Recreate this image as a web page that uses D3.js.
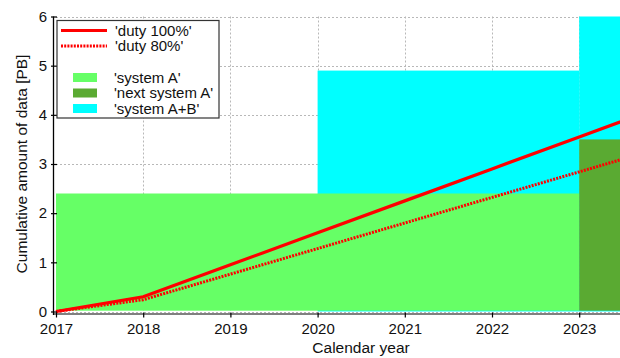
<!DOCTYPE html>
<html>
<head>
<meta charset="utf-8">
<script src="https://cdn.jsdelivr.net/npm/d3@7"></script>
<style>
  html, body { margin: 0; padding: 0; background: #fff; }
  svg { display: block; font-family: "Liberation Sans", Arial, Helvetica, sans-serif; }
</style>
</head>
<body>
<svg id="chart" width="620" height="358"></svg>
<script>
// ---- data ----
const years = [2017, 2018, 2019, 2020, 2021, 2022, 2023, 2024];
const duty100 = [0, 0.3, 0.95, 1.6, 2.25, 2.9, 3.55, 4.2];
const duty80 = [0, 0.24, 0.76, 1.28, 1.8, 2.32, 2.84, 3.36];

const boxSeries = ["system A+B", "system A+B", "system A", "next system A"];
const boxStart = [2020, 2023, 2017, 2023];
const boxEnd = [2023, 2024, 2023, 2024];
const boxTop = [4.9, 6.0, 2.4, 3.5];

const xTicks = [2017, 2018, 2019, 2020, 2021, 2022, 2023];
const yTicks = [0, 1, 2, 3, 4, 5, 6];

const lineSeries = ["'duty 100%'", "'duty 80%'"];
const areaSeries = ["system A", "next system A", "system A+B"];
const areaLabels = ["'system A'", "'next system A'", "'system A+B'"];
const areaColors = { "system A": "#66ff66", "next system A": "#5aaa32", "system A+B": "#00ffff" };

// ---- scales ----
const svg = d3.select("#chart");
const x = d3.scaleLinear().domain([2017, 2024]).range([56, 666.4]);
const y = d3.scaleLinear().domain([0, 6]).range([311.5, 16.5]);

// grid
const grid = svg.append("g").attr("stroke", "#b8b8b8").attr("stroke-width", 1).attr("stroke-dasharray", "2,2");
grid.selectAll("line.gx").data(xTicks.slice(1)).join("line")
  .attr("x1", d => Math.round(x(d)) + 0.5).attr("x2", d => Math.round(x(d)) + 0.5)
  .attr("y1", y(6)).attr("y2", y(0));
grid.selectAll("line.gy").data(yTicks).join("line")
  .attr("x1", x(2017)).attr("x2", 620)
  .attr("y1", d => Math.round(y(d)) + 0.5).attr("y2", d => Math.round(y(d)) + 0.5);

// boxes
const boxes = boxSeries.map((s, i) => ({ s, x0: boxStart[i], x1: boxEnd[i], top: boxTop[i] }));
svg.append("g").selectAll("rect").data(boxes).join("rect")
  .attr("x", d => x(d.x0))
  .attr("width", d => x(d.x1) - x(d.x0))
  .attr("y", d => y(d.top))
  .attr("height", d => y(0) - y(d.top) - (d.s === "system A+B" ? 0 : 0.8))
  .attr("fill", d => areaColors[d.s]);

// lines
const lineGen = d3.line().x(d => x(d[0])).y(d => y(d[1]));
svg.append("path").datum(years.map((yr, i) => [yr, duty80[i]]))
  .attr("d", lineGen).attr("fill", "none").attr("stroke", "#ff0000")
  .attr("stroke-width", 3).attr("stroke-dasharray", "2,1.2");
svg.append("path").datum(years.map((yr, i) => [yr, duty100[i]]))
  .attr("d", lineGen).attr("fill", "none").attr("stroke", "#ff0000")
  .attr("stroke-width", 3.2);

// axes
svg.append("line").attr("x1", 53).attr("x2", 620).attr("y1", 314).attr("y2", 314)
  .attr("stroke", "#808080").attr("stroke-width", 2.2);
svg.append("line").attr("x1", 53.5).attr("x2", 53.5).attr("y1", y(6)).attr("y2", 315)
  .attr("stroke", "#000").attr("stroke-width", 1.3);

const xAxis = d3.axisBottom(x).tickValues(xTicks).tickFormat(d3.format("d")).tickSize(5).tickPadding(6);
const gx = svg.append("g").attr("transform", "translate(0,312.5)").call(xAxis);
gx.select(".domain").remove();
gx.selectAll(".tick line").attr("stroke", "#000").attr("stroke-width", 1.2);
gx.selectAll(".tick text").attr("font-size", 15).attr("fill", "#111");

const yAxis = d3.axisLeft(y).tickValues(yTicks).tickFormat(d3.format("d")).tickSize(6).tickPadding(4);
const gy = svg.append("g").attr("transform", "translate(57,0)").call(yAxis);
gy.select(".domain").remove();
gy.selectAll(".tick line").attr("stroke", "#000").attr("stroke-width", 1.2);
gy.selectAll(".tick text").attr("font-size", 15).attr("fill", "#111");

// axis titles
svg.append("text").attr("x", 361).attr("y", 353).attr("text-anchor", "middle")
  .attr("font-size", 15.5).attr("fill", "#111").text("Calendar year");
svg.append("text").attr("transform", `translate(27,${(y(0) + y(6)) / 2}) rotate(-90)`)
  .attr("text-anchor", "middle").attr("font-size", 15.5).attr("fill", "#111")
  .text("Cumulative amount of data [PB]");

// legend
const lg = svg.append("g");
lg.append("rect").attr("x", 57).attr("y", 20.5).attr("width", 162).attr("height", 97.5)
  .attr("fill", "#fff").attr("stroke", "#333").attr("stroke-width", 1.2);
const lineY = [30.5, 46];
lineSeries.forEach((name, i) => {
  lg.append("line").attr("x1", 61).attr("x2", 107).attr("y1", lineY[i]).attr("y2", lineY[i])
    .attr("stroke", "#ff0000").attr("stroke-width", 3)
    .attr("stroke-dasharray", i === 1 ? "2,1.2" : null);
  lg.append("text").attr("x", 115).attr("y", lineY[i]).attr("dy", "0.35em")
    .attr("font-size", 15).attr("fill", "#111").text(name);
});
const areaY = [77.5, 93, 108.5];
areaSeries.forEach((s, i) => {
  lg.append("rect").attr("x", 73).attr("y", areaY[i] - 4.5).attr("width", 24).attr("height", 9)
    .attr("fill", areaColors[s]);
  lg.append("text").attr("x", 114).attr("y", areaY[i]).attr("dy", "0.35em")
    .attr("font-size", 15).attr("fill", "#111").text(areaLabels[i]);
});
</script>
</body>
</html>
